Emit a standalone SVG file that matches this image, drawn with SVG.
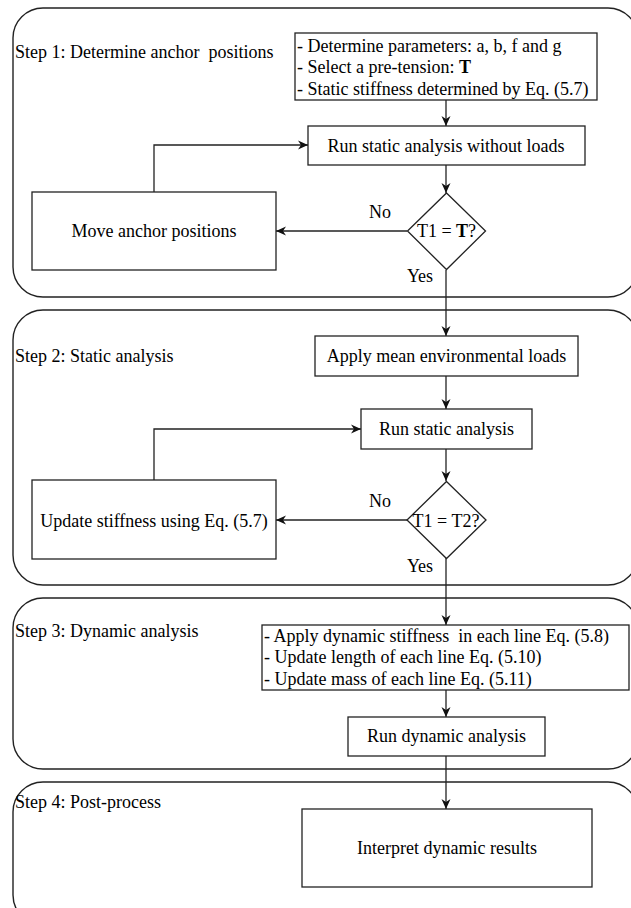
<svg xmlns="http://www.w3.org/2000/svg" width="631" height="908" viewBox="0 0 631 908">
<style>
text{font-family:"Liberation Serif","Times New Roman",serif;font-size:18px;fill:#000}
.c{text-anchor:middle}
.cont{fill:none;stroke:#222;stroke-width:1.4}
.box{fill:#fff;stroke:#222;stroke-width:1.3}
.edge{fill:none;stroke:#222;stroke-width:1.3}
</style>
<defs>
<marker id="arr" markerUnits="userSpaceOnUse" markerWidth="12" markerHeight="10" refX="10" refY="5" orient="auto">
<path d="M0,0.5 L10,5 L0,9.5 L3,5 z" fill="#111"/>
</marker>
</defs>
<rect width="631" height="908" fill="#fff"/>
<g id="step1">
<rect class="cont" x="13" y="8" width="625" height="289" rx="30"/>
<text x="15" y="58" xml:space="preserve">Step 1: Determine anchor  positions</text>
</g>
<g id="step2">
<rect class="cont" x="13" y="310" width="625" height="275" rx="30"/>
<text x="15" y="362">Step 2: Static analysis</text>
</g>
<g id="step3">
<rect class="cont" x="13" y="598" width="625" height="171" rx="30"/>
<text x="15" y="637">Step 3: Dynamic analysis</text>
</g>
<g id="step4">
<rect class="cont" x="13" y="782" width="625" height="143" rx="30"/>
<text x="15" y="808">Step 4: Post-process</text>
</g>
<g id="connectors">
<path class="edge" d="M446,100 V126" marker-end="url(#arr)"/>
<path class="edge" d="M446,165 V193" marker-end="url(#arr)"/>
<path class="edge" d="M407,231 H276" marker-end="url(#arr)"/>
<path class="edge" d="M154,192 V145 H308" marker-end="url(#arr)"/>
<path class="edge" d="M446,270 V336" marker-end="url(#arr)"/>
<path class="edge" d="M446,376 V409" marker-end="url(#arr)"/>
<path class="edge" d="M446,449 V481" marker-end="url(#arr)"/>
<path class="edge" d="M407,520 H276" marker-end="url(#arr)"/>
<path class="edge" d="M154,480 V429 H361" marker-end="url(#arr)"/>
<path class="edge" d="M446,558 V625" marker-end="url(#arr)"/>
<path class="edge" d="M446,690 V717" marker-end="url(#arr)"/>
<path class="edge" d="M446,756 V809" marker-end="url(#arr)"/>
<text class="c" x="380" y="218">No</text>
<text class="c" x="420" y="282">Yes</text>
<text class="c" x="380" y="507">No</text>
<text class="c" x="420" y="572">Yes</text>
</g>
<g id="params">
<rect class="box" x="295" y="33" width="302" height="67"/>
<text x="297" y="52">- Determine parameters: a, b, f and g</text>
<text x="297" y="73">- Select a pre-tension: <tspan font-weight="bold">T</tspan></text>
<text x="297" y="95">- Static stiffness determined by Eq. (5.7)</text>
</g>
<g id="run-static-noload">
<rect class="box" x="308" y="126" width="277" height="39"/>
<text class="c" x="446" y="152">Run static analysis without loads</text>
</g>
<g id="check1">
<polygon class="box" points="446.5,193 485.5,231 446.5,269.5 407.5,231"/>
<text class="c" x="446.5" y="237">T1 = <tspan font-weight="bold">T</tspan>?</text>
</g>
<g id="move-anchor">
<rect class="box" x="32" y="192" width="244" height="78"/>
<text class="c" x="154" y="237">Move anchor positions</text>
</g>
<g id="apply-loads">
<rect class="box" x="315" y="336" width="263" height="40"/>
<text class="c" x="446.5" y="362">Apply mean environmental loads</text>
</g>
<g id="run-static">
<rect class="box" x="361" y="409" width="171" height="40"/>
<text class="c" x="446.5" y="435">Run static analysis</text>
</g>
<g id="check2">
<polygon class="box" points="446.5,481.5 486,520 446.5,558.5 407,520"/>
<text class="c" x="446" y="527">T1 = T2?</text>
</g>
<g id="update-stiffness">
<rect class="box" x="32" y="480" width="244" height="79"/>
<text class="c" x="154" y="527">Update stiffness using Eq. (5.7)</text>
</g>
<g id="dyn-params">
<rect class="box" x="262" y="625" width="367" height="65"/>
<text x="264" y="642" xml:space="preserve">- Apply dynamic stiffness  in each line Eq. (5.8)</text>
<text x="264" y="663">- Update length of each line Eq. (5.10)</text>
<text x="264" y="685">- Update mass of each line Eq. (5.11)</text>
</g>
<g id="run-dynamic">
<rect class="box" x="348" y="717" width="197" height="39"/>
<text class="c" x="446.5" y="742">Run dynamic analysis</text>
</g>
<g id="interpret">
<rect class="box" x="302" y="809" width="290" height="78"/>
<text class="c" x="447" y="854">Interpret dynamic results</text>
</g>
</svg>
